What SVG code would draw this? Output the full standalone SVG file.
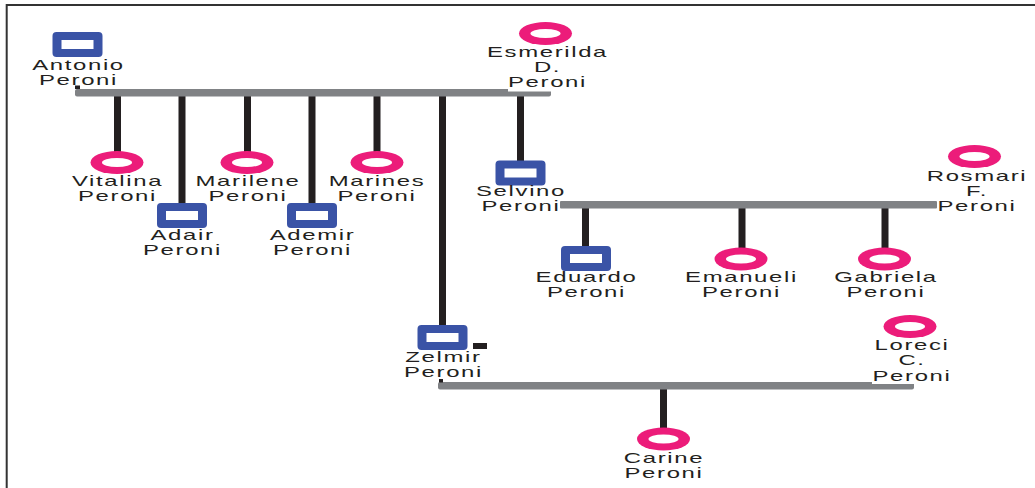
<svg xmlns="http://www.w3.org/2000/svg" xmlns:xlink="http://www.w3.org/1999/xlink" width="1035" height="488" viewBox="0 0 1035 488">
<style>
.t{font-family:"Liberation Sans",Arial,sans-serif;font-size:14.5px;fill:#231f20;letter-spacing:1px;text-anchor:middle}
.bar{fill:#808285}
.ln{fill:#231f20}
.bg{fill:#ffffff}
</style>
<defs>
<g id="female"><ellipse cx="0" cy="0" rx="26.5" ry="11.5" fill="#ec1c7a"/><ellipse cx="0" cy="0" rx="15" ry="4.5" fill="#ffffff"/></g>
<g id="male"><rect x="-25" y="-12.5" width="50" height="25" rx="4" fill="#3a53a6"/><rect x="-16" y="-4.5" width="32" height="9" fill="#ffffff"/></g>
</defs>
<rect width="1035" height="488" fill="#ffffff"/>
<path d="M6.7 488 V5 H1035" fill="none" stroke="#333333" stroke-width="2"/>

<g id="connectors">
<rect class="ln" x="114" y="95" width="7" height="57"/>
<rect class="ln" x="178.5" y="95" width="7" height="109"/>
<rect class="ln" x="244" y="95" width="7" height="57"/>
<rect class="ln" x="308.5" y="95" width="7" height="109"/>
<rect class="ln" x="373.5" y="95" width="7" height="57"/>
<rect class="ln" x="439" y="95" width="7" height="231"/>
<rect class="ln" x="517" y="95" width="7" height="67"/>
<rect class="ln" x="582" y="207" width="7" height="40"/>
<rect class="ln" x="738.5" y="207" width="7" height="42"/>
<rect class="ln" x="881.5" y="207" width="7" height="42"/>
<rect class="ln" x="660" y="388" width="7" height="40"/>
<rect class="bar" x="75" y="89" width="476" height="7.5" rx="2"/>
<rect class="bar" x="560" y="201" width="377" height="7.5" rx="1"/>
<rect class="bar" x="438" y="382" width="476" height="7.5" rx="2"/>
<rect class="ln" x="75" y="85.5" width="5" height="3.5"/>
<rect class="ln" x="439" y="379" width="4" height="3.5"/>
<rect class="ln" x="473" y="343" width="14" height="6"/>
</g>

<g id="antonio">
<use xlink:href="#male" x="77.5" y="44.5"/>
<text class="t" transform="translate(78.5,0) scale(1.65,1)"><tspan x="0" y="70">Antonio</tspan><tspan x="0" y="85">Peroni</tspan></text>
</g>
<g id="esmerilda">
<use xlink:href="#female" x="545.5" y="33.5"/>
<rect class="bg" x="508" y="74" width="79" height="17.5"/>
<text class="t" transform="translate(547.5,0) scale(1.65,1)"><tspan x="0" y="57">Esmerilda</tspan><tspan x="0" y="72">D.</tspan><tspan x="0" y="87">Peroni</tspan></text>
</g>
<g id="vitalina">
<use xlink:href="#female" x="117" y="162.5"/>
<text class="t" transform="translate(117.5,0) scale(1.65,1)"><tspan x="0" y="186.5">Vitalina</tspan><tspan x="0" y="201.5">Peroni</tspan></text>
</g>
<g id="adair">
<use xlink:href="#male" x="182" y="215.5"/>
<text class="t" transform="translate(182.5,0) scale(1.65,1)"><tspan x="0" y="240.5">Adair</tspan><tspan x="0" y="255.5">Peroni</tspan></text>
</g>
<g id="marilene">
<use xlink:href="#female" x="247" y="162.5"/>
<text class="t" transform="translate(248,0) scale(1.65,1)"><tspan x="0" y="186.5">Marilene</tspan><tspan x="0" y="201.5">Peroni</tspan></text>
</g>
<g id="ademir">
<use xlink:href="#male" x="312" y="215.5"/>
<text class="t" transform="translate(312.5,0) scale(1.65,1)"><tspan x="0" y="240.5">Ademir</tspan><tspan x="0" y="255.5">Peroni</tspan></text>
</g>
<g id="marines">
<use xlink:href="#female" x="377" y="162.5"/>
<text class="t" transform="translate(377,0) scale(1.65,1)"><tspan x="0" y="186.5">Marines</tspan><tspan x="0" y="201.5">Peroni</tspan></text>
</g>
<g id="selvino">
<use xlink:href="#male" x="520.5" y="173"/>
<text class="t" transform="translate(521,0) scale(1.65,1)"><tspan x="0" y="196.5">Selvino</tspan><tspan x="0" y="211.5">Peroni</tspan></text>
</g>
<g id="rosmari">
<use xlink:href="#female" x="974.5" y="156.5"/>
<text class="t" transform="translate(977,0) scale(1.65,1)"><tspan x="0" y="181">Rosmari</tspan><tspan x="0" y="196">F.</tspan><tspan x="0" y="211">Peroni</tspan></text>
</g>
<g id="eduardo">
<use xlink:href="#male" x="586" y="258.5"/>
<text class="t" transform="translate(586.5,0) scale(1.65,1)"><tspan x="0" y="282">Eduardo</tspan><tspan x="0" y="297">Peroni</tspan></text>
</g>
<g id="emanueli">
<use xlink:href="#female" x="741" y="259"/>
<text class="t" transform="translate(741.5,0) scale(1.65,1)"><tspan x="0" y="282">Emanueli</tspan><tspan x="0" y="297">Peroni</tspan></text>
</g>
<g id="gabriela">
<use xlink:href="#female" x="884.5" y="259"/>
<text class="t" transform="translate(886,0) scale(1.65,1)"><tspan x="0" y="282">Gabriela</tspan><tspan x="0" y="297">Peroni</tspan></text>
</g>
<g id="zelmir">
<use xlink:href="#male" x="442.5" y="337.5"/>
<text class="t" transform="translate(443.5,0) scale(1.65,1)"><tspan x="0" y="362">Zelmir</tspan><tspan x="0" y="377">Peroni</tspan></text>
</g>
<g id="loreci">
<use xlink:href="#female" x="910" y="326.5"/>
<rect class="bg" x="872" y="369" width="80" height="15"/>
<text class="t" transform="translate(912,0) scale(1.65,1)"><tspan x="0" y="350.5">Loreci</tspan><tspan x="0" y="365.5">C.</tspan><tspan x="0" y="381">Peroni</tspan></text>
</g>
<g id="carine">
<use xlink:href="#female" x="663.5" y="439"/>
<text class="t" transform="translate(664,0) scale(1.65,1)"><tspan x="0" y="463">Carine</tspan><tspan x="0" y="478">Peroni</tspan></text>
</g>
</svg>
